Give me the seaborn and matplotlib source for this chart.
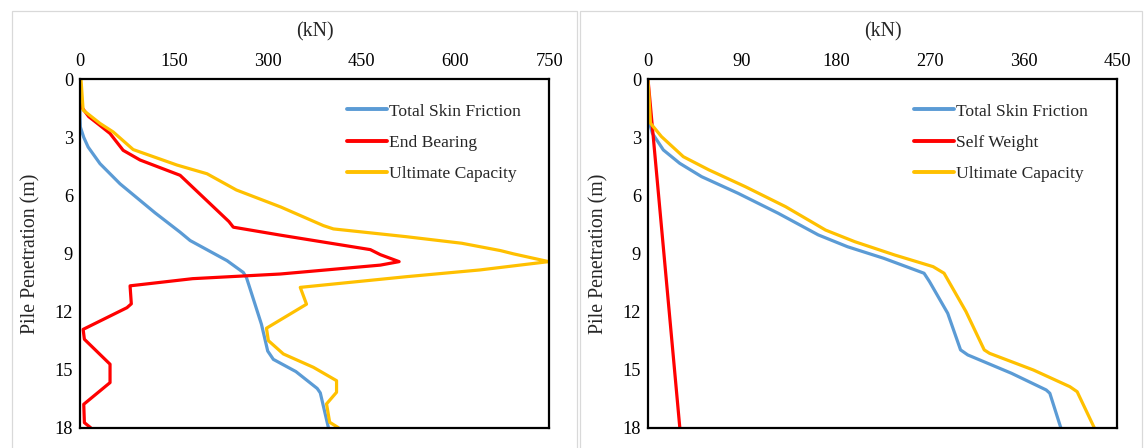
import matplotlib
matplotlib.use("Agg")
import matplotlib.pyplot as plt
import seaborn as sns
import pandas as pd
from matplotlib.patches import Rectangle

# ---------------- data ----------------
# Left chart
L_skin_depth = [0, 2.0, 2.46, 3.0, 3.5, 4.36, 5.4, 6.9, 7.9, 8.33, 9.37, 9.98, 10.24,
                12.66, 14.04, 14.47, 15.1, 15.97, 16.2, 18]
L_skin_kn = [0, 0, 0.5, 6, 13, 32, 64, 120, 160, 176, 235, 261, 266,
             290, 300, 309, 345, 379, 384, 397]

L_end_depth = [0, 1.41, 1.93, 2.36, 2.8, 3.67, 4.17, 4.96, 7.35, 7.64, 8.05, 8.8, 9.06,
               9.42, 9.6, 10.06, 10.3, 10.67, 11.6, 11.8, 12.92, 13.43, 14.72, 15.67,
               16.79, 17.74, 18]
L_end_kn = [0, 2, 14, 31, 48, 69, 96, 160, 238, 245, 320, 464, 480,
            510, 480, 320, 180, 80, 82, 75, 5, 7, 48, 48,
            6, 7, 17]

L_ult_depth = [0, 1.59, 2.28, 2.72, 3.63, 4.43, 4.88, 5.72, 6.6, 7.56, 7.73, 8.13, 8.47,
               8.85, 9.02, 9.42, 9.85, 10.2, 10.75, 11.62, 12.86, 13.5, 14.19, 14.88,
               15.57, 16.17, 16.77, 17.72, 18]
L_ult_kn = [1.6, 5, 32, 53, 85, 155, 203, 250, 321, 389, 405, 521, 610,
            672, 693, 749, 639, 521, 352, 362, 298, 301, 325, 373,
            410, 410, 394, 399, 413]

# Right chart
R_skin_depth = [0, 2.1, 2.79, 3.65, 4.34, 5.03, 5.89, 6.92, 8.04, 8.65, 9.25, 10.02,
                10.45, 12.09, 13.98, 14.24, 15.19, 16.05, 16.22, 18]
R_skin_kn = [0, 0.7, 4.2, 14.7, 30.4, 51.4, 86.4, 124.8, 163.3, 191.3, 226.2, 264.7,
             269.9, 287.4, 299.7, 306.6, 348.6, 381.8, 385.3, 395.8]

R_self_depth = [0, 18]
R_self_kn = [0, 30.5]

R_ult_depth = [0, 2.27, 2.96, 4.0, 4.68, 5.55, 6.58, 7.79, 8.39, 9.08, 9.68, 10.02,
               12.0, 13.98, 14.16, 15.02, 15.88, 16.14, 18]
R_ult_kn = [0, 2.4, 12.9, 33.9, 58.4, 93.4, 131.9, 170.3, 198.3, 236.7, 273.4, 283.9,
            304.9, 322.4, 327.6, 369.6, 404.5, 411.5, 427.9]

L_ticks = [0, 150, 300, 450, 600, 750]
R_ticks = [0, 90, 180, 270, 360, 450]
Y_ticks = [0, 3, 6, 9, 12, 15, 18]

BLUE, RED, GOLD = "#5B9BD5", "#FF0000", "#FFC000"

# ---------------- style ----------------
sns.set_style("white")
plt.rcParams["font.family"] = ["Liberation Serif", "DejaVu Serif"]
FS_TICK = 13.2
FS_TITLE = 14.3
FS_LEG = 12.6

W, H = 1146, 448
fig = plt.figure(figsize=(W / 100, H / 100), dpi=100)

# panel borders
for x0, x1 in [(11.7, 576.7), (580, 1141.7)]:
    fig.patches.append(Rectangle((x0 / W, -0.1), (x1 - x0) / W, (H - 11) / H + 0.1,
                                 transform=fig.transFigure, fill=False,
                                 edgecolor="#D9D9D9", linewidth=0.9))


def make_axes(x0, x1):
    y_top, y_bot = 79.3, 427.7
    return fig.add_axes([x0 / W, 1 - y_bot / H, (x1 - x0) / W, (y_bot - y_top) / H])


def series_df(depth, kn, name):
    return pd.DataFrame({"depth": depth, "kn": kn, "series": name})


def draw(ax, series, xmax, ticks, legend_x):
    for depth, kn, name, col in series:
        sns.lineplot(data=series_df(depth, kn, name), x="kn", y="depth", sort=False,
                     estimator=None, color=col, linewidth=2.3, label=name, ax=ax)
    ax.set_xlim(0, xmax)
    ax.set_ylim(18, 0)
    ax.set_xticks(ticks)
    ax.set_yticks(Y_ticks)
    ax.xaxis.tick_top()
    ax.tick_params(axis="x", length=0, pad=6.5, labelsize=FS_TICK, colors="black")
    ax.tick_params(axis="y", length=0, pad=5, labelsize=FS_TICK, colors="black")
    ax.set_xlabel("")
    ax.set_ylabel("")
    for s in ax.spines.values():
        s.set_color("black")
        s.set_linewidth(1.6)
        s.set_visible(True)
    ax.text(0.5, 1.135, "(kN)", transform=ax.transAxes, ha="center", va="center",
            fontsize=FS_TITLE)
    ax.text(-0.104, 0.5, "Pile Penetration (m)", transform=ax.transAxes, ha="center",
            va="center", rotation=90, fontsize=FS_TITLE)
    leg = ax.legend(loc="upper left", bbox_to_anchor=(legend_x, 0.931), frameon=False,
                    fontsize=FS_LEG, handlelength=2.3, handletextpad=0.12,
                    labelspacing=0.86, borderpad=0, borderaxespad=0)
    for line in leg.get_lines():
        line.set_linewidth(2.8)


axL = make_axes(80, 549.3)
draw(axL, [(L_skin_depth, L_skin_kn, "Total Skin Friction", BLUE),
           (L_end_depth, L_end_kn, "End Bearing", RED),
           (L_ult_depth, L_ult_kn, "Ultimate Capacity", GOLD)],
     750, L_ticks, 0.569)

axR = make_axes(648, 1117.3)
draw(axR, [(R_skin_depth, R_skin_kn, "Total Skin Friction", BLUE),
           (R_self_depth, R_self_kn, "Self Weight", RED),
           (R_ult_depth, R_ult_kn, "Ultimate Capacity", GOLD)],
     450, R_ticks, 0.566)

fig.savefig("out.png", dpi=100)
